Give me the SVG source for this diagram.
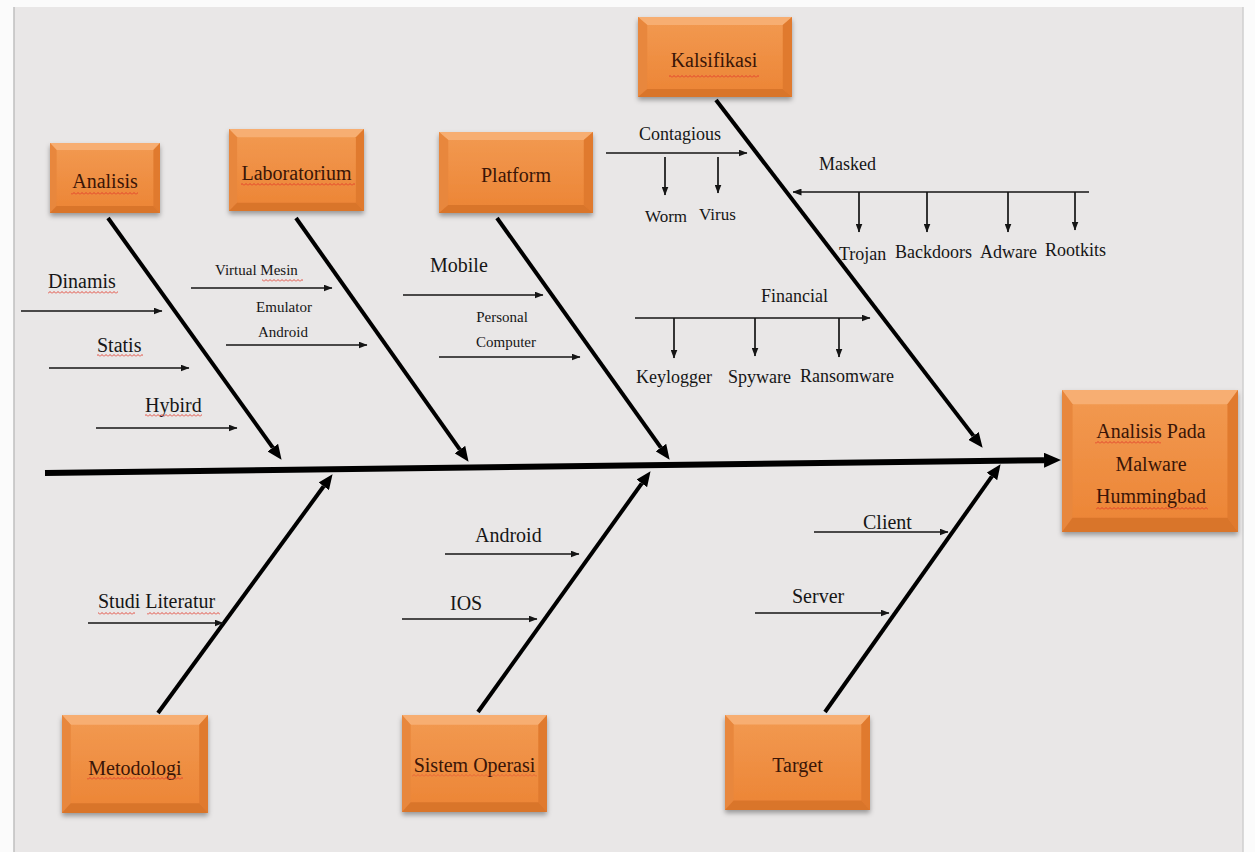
<svg xmlns="http://www.w3.org/2000/svg" xmlns:xlink="http://www.w3.org/1999/xlink" width="1255" height="852" viewBox="0 0 1255 852">
<style>
.lbl{font-family:"Liberation Serif","Times New Roman",serif;fill:#161616;font-size:20px}
.s15{font-size:15px}
.s17{font-size:17px}
.s18{font-size:18px}
.bx{font-family:"Liberation Serif","Times New Roman",serif;fill:#3a1507;font-size:20px;text-anchor:middle}
.thin{stroke:#151515;stroke-width:1.7;fill:none;marker-end:url(#ah)}
.plain{stroke:#151515;stroke-width:1.7;fill:none}
.bone{stroke:#000;stroke-width:4;fill:none;marker-end:url(#bh)}
.sq{fill:url(#sq)}
</style>
<defs>
<marker id="ah" markerWidth="9" markerHeight="7" refX="8.5" refY="3.5" orient="auto" markerUnits="userSpaceOnUse"><path d="M0,0 L9,3.5 L0,7 z" fill="#151515"/></marker>
<marker id="bh" markerWidth="15" markerHeight="13" refX="0" refY="6.5" orient="auto" markerUnits="userSpaceOnUse"><path d="M0,0 L15,6.5 L0,13 z" fill="#000"/></marker>
<marker id="sh" markerWidth="17" markerHeight="15" refX="0" refY="7.5" orient="auto" markerUnits="userSpaceOnUse"><path d="M0,0 L17,7.5 L0,15 z" fill="#000"/></marker>
<pattern id="sq" width="4" height="3" patternUnits="userSpaceOnUse"><path d="M0,2.5 L2,0.5 L4,2.5" fill="none" stroke="#e23a2a" stroke-width="0.9"/></pattern>
<linearGradient id="face" x1="0" y1="0" x2="0" y2="1"><stop offset="0" stop-color="#F29A52"/><stop offset="1" stop-color="#EC8434"/></linearGradient>
<filter id="shd" x="-10%" y="-10%" width="125%" height="130%"><feDropShadow dx="0" dy="3" stdDeviation="2.5" flood-color="#000" flood-opacity="0.35"/></filter>
<symbol id="box" viewBox="0 0 150 90" preserveAspectRatio="none">
<rect x="0" y="0" width="150" height="90" fill="url(#face)"/>
<polygon points="0,0 150,0 141,9 9,9" fill="#F7AE72"/>
<polygon points="0,0 9,9 9,81 0,90" fill="#E8873C"/>
<polygon points="150,0 141,9 141,81 150,90" fill="#E07A2E"/>
<polygon points="0,90 9,81 141,81 150,90" fill="#D9742C"/>
</symbol>
</defs>

<rect x="0" y="0" width="1255" height="852" fill="#fbfbfb"/>
<rect x="14" y="7" width="1229" height="846" fill="#E9E7E7"/>
<line x1="14" y1="7" x2="14" y2="852" stroke="#bfbfbf" stroke-width="1.5"/>
<line x1="1243" y1="7" x2="1243" y2="852" stroke="#cfcfcf" stroke-width="1.5"/>

<g id="connectors">
<line x1="45" y1="473" x2="1044" y2="460.2" stroke="#000" stroke-width="6" marker-end="url(#sh)"/>
<line class="bone" x1="108" y1="218" x2="272.8" y2="447.6"/>
<line class="bone" x1="296" y1="218" x2="459.9" y2="449.6"/>
<line class="bone" x1="497" y1="218" x2="660.9" y2="447.6"/>
<line class="bone" x1="716" y1="100" x2="973.5" y2="435.9"/>
<line class="bone" x1="158" y1="713" x2="323.7" y2="486.3"/>
<line class="bone" x1="478" y1="712" x2="641.8" y2="483.4"/>
<line class="bone" x1="825" y1="712" x2="991.9" y2="476.4"/>

<line class="thin" x1="21" y1="311" x2="162" y2="311"/>
<line class="thin" x1="49" y1="368" x2="189" y2="368"/>
<line class="thin" x1="96" y1="428" x2="237" y2="428"/>
<line class="thin" x1="191" y1="288" x2="332" y2="288"/>
<line class="thin" x1="226" y1="345" x2="367" y2="345"/>
<line class="thin" x1="403" y1="295" x2="543" y2="295"/>
<line class="thin" x1="439" y1="357" x2="580" y2="357"/>

<line class="thin" x1="606" y1="153" x2="747" y2="153"/>
<line class="thin" x1="665" y1="157" x2="665" y2="195"/>
<line class="thin" x1="718" y1="157" x2="718" y2="193"/>
<line class="thin" x1="1089" y1="192" x2="793" y2="192"/>
<line class="thin" x1="859" y1="192" x2="859" y2="232"/>
<line class="thin" x1="927" y1="192" x2="927" y2="232"/>
<line class="thin" x1="1008" y1="192" x2="1008" y2="232"/>
<line class="thin" x1="1075" y1="192" x2="1075" y2="230"/>
<line class="thin" x1="635" y1="318" x2="870" y2="318"/>
<line class="thin" x1="674" y1="318" x2="674" y2="358"/>
<line class="thin" x1="755" y1="318" x2="755" y2="356"/>
<line class="thin" x1="839" y1="318" x2="839" y2="357"/>

<line class="thin" x1="88" y1="623" x2="223" y2="623"/>
<line class="thin" x1="445" y1="554" x2="579" y2="554"/>
<line class="thin" x1="402" y1="619" x2="537" y2="619"/>
<line class="thin" x1="814" y1="532" x2="948" y2="532"/>
<line class="thin" x1="755" y1="613" x2="889" y2="613"/>
</g>

<g id="analisis">
<use href="#box" x="50" y="143" width="110" height="70" filter="url(#shd)"/>
<text class="bx" x="105" y="188">Analisis</text>
<rect class="sq" x="71" y="192" width="67" height="3"/>
<text class="lbl" x="48" y="288">Dinamis</text>
<rect class="sq" x="48" y="291" width="70" height="3"/>
<text class="lbl" x="97" y="352">Statis</text>
<rect class="sq" x="97" y="354" width="46" height="3"/>
<text class="lbl" x="145" y="412">Hybird</text>
<rect class="sq" x="145" y="414" width="57" height="3"/>
</g>

<g id="laboratorium">
<use href="#box" x="229" y="129" width="135" height="82" filter="url(#shd)"/>
<text class="bx" x="296.5" y="180">Laboratorium</text>
<rect class="sq" x="241" y="183" width="114" height="3"/>
<text class="lbl s15" x="215" y="275">Virtual Mesin</text>
<rect class="sq" x="262" y="279" width="41" height="3"/>
<text class="lbl s15" x="284" y="312" text-anchor="middle">Emulator</text>
<text class="lbl s15" x="283" y="337" text-anchor="middle">Android</text>
</g>

<g id="platform">
<use href="#box" x="439" y="132" width="154" height="81" filter="url(#shd)"/>
<text class="bx" x="516" y="182">Platform</text>
<text class="lbl" x="430" y="272">Mobile</text>
<text class="lbl s15" x="502" y="322" text-anchor="middle">Personal</text>
<text class="lbl s15" x="506" y="347" text-anchor="middle">Computer</text>
</g>

<g id="kalsifikasi">
<use href="#box" x="638" y="17" width="154" height="80" filter="url(#shd)"/>
<text class="bx" x="714" y="67">Kalsifikasi</text>
<rect class="sq" x="669" y="75" width="90" height="3"/>
<text class="lbl s18" x="639" y="140">Contagious</text>
<text class="lbl s17" x="645" y="222">Worm</text>
<text class="lbl s17" x="699" y="220">Virus</text>
<text class="lbl s18" x="819" y="170">Masked</text>
<text class="lbl s18" x="839" y="260">Trojan</text>
<text class="lbl s18" x="895" y="258">Backdoors</text>
<text class="lbl s18" x="980" y="258">Adware</text>
<text class="lbl s18" x="1045" y="256">Rootkits</text>
<text class="lbl s18" x="761" y="302">Financial</text>
<text class="lbl s18" x="636" y="383">Keylogger</text>
<text class="lbl s18" x="728" y="383">Spyware</text>
<text class="lbl s18" x="800" y="382">Ransomware</text>
</g>

<g id="hasil">
<use href="#box" x="1062" y="390" width="176" height="142" filter="url(#shd)"/>
<text class="bx" x="1151" y="438">Analisis Pada</text>
<text class="bx" x="1151" y="471">Malware</text>
<text class="bx" x="1151" y="503">Hummingbad</text>
<rect class="sq" x="1095" y="441" width="66" height="3"/>
<rect class="sq" x="1096" y="507" width="112" height="3"/>
</g>

<g id="metodologi">
<use href="#box" x="62" y="715" width="146" height="98" filter="url(#shd)"/>
<text class="bx" x="135" y="775">Metodologi</text>
<rect class="sq" x="87" y="777" width="96" height="3"/>
<text class="lbl" x="98" y="608">Studi Literatur</text>
<rect class="sq" x="98" y="612" width="37" height="3"/>
<rect class="sq" x="147" y="612" width="73" height="3"/>
</g>

<g id="sistem-operasi">
<use href="#box" x="402" y="715" width="145" height="97" filter="url(#shd)"/>
<text class="bx" x="474.5" y="772">Sistem Operasi</text>
<rect class="sq" x="412" y="774" width="125" height="3" opacity="0.55"/>
<text class="lbl" x="475" y="542">Android</text>
<text class="lbl" x="450" y="610">IOS</text>
</g>

<g id="target">
<use href="#box" x="725" y="715" width="145" height="95" filter="url(#shd)"/>
<text class="bx" x="797.5" y="772">Target</text>
<text class="lbl" x="863" y="529">Client</text>
<text class="lbl" x="792" y="603">Server</text>
</g>
</svg>
